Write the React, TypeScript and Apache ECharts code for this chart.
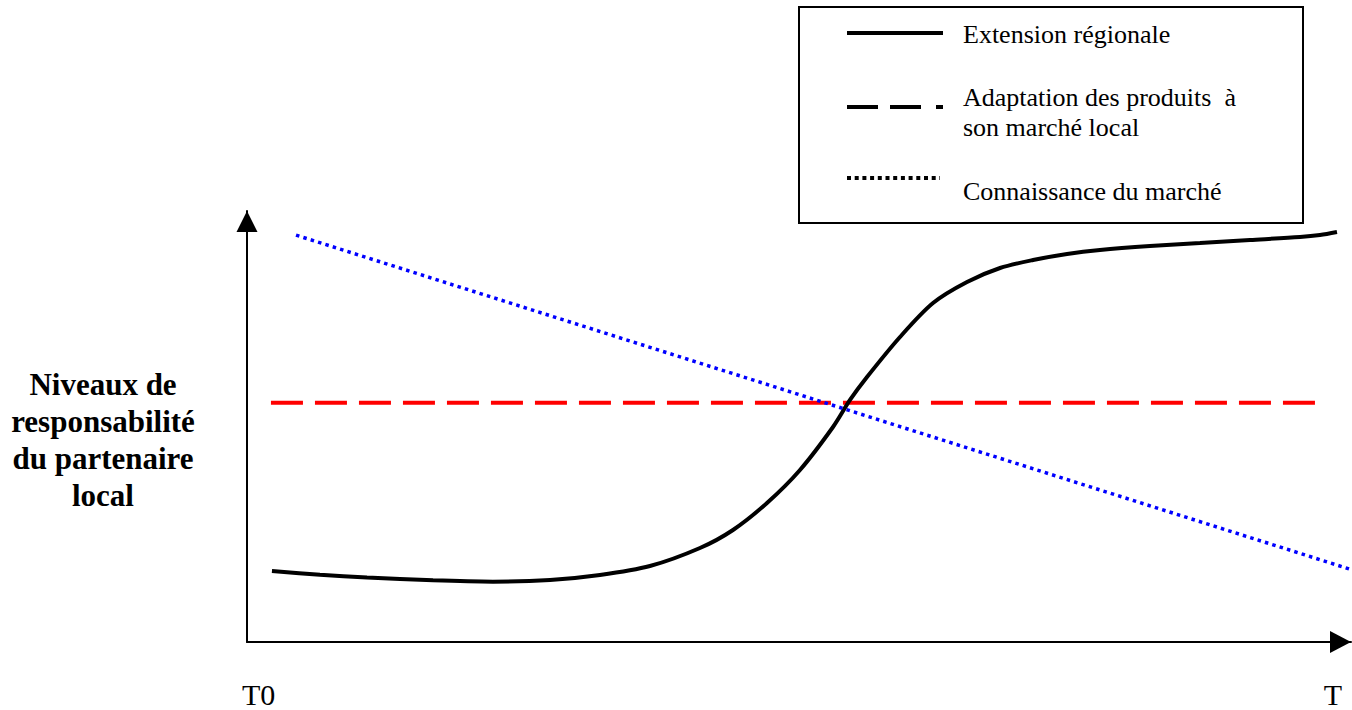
import React, { useEffect, useRef } from "react";
import * as echarts from "echarts";

// Data (normalised 0–100 scale on both axes)
const extensionRegionale: [number, number][] = [
  [2.26, 16.47], [6.61, 15.6], [10.87, 14.95], [16.85, 14.3], [22.28, 14.0],
  [27.45, 14.39], [31.97, 15.55], [36.5, 17.63], [41.03, 21.81], [44.02, 25.99],
  [47.1, 32.25], [50.09, 39.91], [53.08, 49.88], [54.62, 56.15], [56.16, 61.48],
  [59.15, 70.77], [62.14, 78.65], [65.22, 83.53], [68.21, 86.77], [71.2, 88.63],
  [74.28, 90.02], [77.26, 90.95], [81.79, 91.88], [86.32, 92.58], [90.85, 93.27],
  [95.38, 93.97], [97.19, 94.43], [98.73, 95.13],
];
const adaptationProduits: [number, number][] = [
  [2.17, 55.5], [96.74, 55.5],
];
const connaissanceMarche: [number, number][] = [
  [4.44, 94.4], [99.9, 16.9],
];
const legendLabels = [
  "Extension régionale",
  "Adaptation des produits  à",
  "son marché local",
  "Connaissance du marché",
];
const yAxisLabelLines = ["Niveaux de", "responsabilité", "du partenaire", "local"];
const xTickLabels = ["T0", "T"];

const SERIF = "Liberation Serif";

export default function App() {
  const ref = useRef<HTMLDivElement>(null);
  useEffect(() => {
    if (!ref.current) return;
    const chart = echarts.init(ref.current, undefined, { renderer: "svg" });
    const axisLine = (symbolSize: number[]) => ({
      show: true,
      onZero: false,
      symbol: ["none", "triangle"],
      symbolSize,
      symbolOffset: [0, -10.5],
      lineStyle: { color: "#000", width: 2 },
    });
    const legendText = (text: string, y: number) => ({
      type: "text",
      x: 963,
      y,
      style: {
        text,
        fill: "#000",
        fontFamily: SERIF,
        fontSize: 26,
        align: "left",
        verticalAlign: "middle",
      },
    });
    chart.setOption({
      animation: false,
      backgroundColor: "#fff",
      grid: { left: 247, right: 1, top: 211, bottom: 68, containLabel: false },
      xAxis: {
        type: "value",
        min: 0,
        max: 100,
        axisLine: axisLine([22, 21]),
        axisTick: { show: false },
        axisLabel: { show: false },
        splitLine: { show: false },
      },
      yAxis: {
        type: "value",
        min: 0,
        max: 100,
        axisLine: axisLine([21, 21]),
        axisTick: { show: false },
        axisLabel: { show: false },
        splitLine: { show: false },
      },
      series: [
        {
          name: "Adaptation des produits à son marché local",
          type: "line",
          data: adaptationProduits,
          showSymbol: false,
          clip: false,
          lineStyle: { color: "#ff0000", width: 4, type: [32, 12], cap: "butt" },
        },
        {
          name: "Extension régionale",
          type: "line",
          data: extensionRegionale,
          smooth: 0.3,
          showSymbol: false,
          clip: false,
          lineStyle: { color: "#000", width: 4 },
        },
        {
          name: "Connaissance du marché",
          type: "line",
          data: connaissanceMarche,
          showSymbol: false,
          clip: false,
          lineStyle: { color: "#0000ff", width: 3.5, type: [3.5, 4.2], cap: "butt" },
        },
      ],
      graphic: [
        {
          type: "rect",
          shape: { x: 799, y: 7, width: 504, height: 216 },
          style: { fill: "#fff", stroke: "#000", lineWidth: 2 },
        },
        { type: "line", shape: { x1: 847, y1: 33, x2: 943, y2: 33 }, style: { stroke: "#000", lineWidth: 4 } },
        { type: "line", shape: { x1: 847, y1: 107, x2: 878, y2: 107 }, style: { stroke: "#000", lineWidth: 4 } },
        { type: "line", shape: { x1: 890, y1: 107, x2: 921, y2: 107 }, style: { stroke: "#000", lineWidth: 4 } },
        { type: "line", shape: { x1: 936, y1: 107, x2: 943, y2: 107 }, style: { stroke: "#000", lineWidth: 4 } },
        {
          type: "line",
          shape: { x1: 847, y1: 178, x2: 940, y2: 178 },
          style: { stroke: "#000", lineWidth: 4, lineDash: [4, 3.7] },
        },
        legendText(legendLabels[0], 34),
        legendText(legendLabels[1], 97),
        legendText(legendLabels[2], 127),
        legendText(legendLabels[3], 191),
        ...yAxisLabelLines.map((t, i) => ({
          type: "text",
          x: 103,
          y: 384 + i * 37,
          style: {
            text: t,
            fill: "#000",
            fontFamily: SERIF,
            fontSize: 31,
            fontWeight: "bold",
            align: "center",
            verticalAlign: "middle",
          },
        })),
        {
          type: "text",
          x: 242,
          y: 694,
          style: { text: xTickLabels[0], fill: "#000", fontFamily: SERIF, fontSize: 30, align: "left", verticalAlign: "middle" },
        },
        {
          type: "text",
          x: 1342,
          y: 694,
          style: { text: xTickLabels[1], fill: "#000", fontFamily: SERIF, fontSize: 30, align: "right", verticalAlign: "middle" },
        },
      ],
    });
    return () => chart.dispose();
  }, []);
  return (
    <div
      ref={ref}
      style={{ position: "fixed", left: 0, top: 0, width: 1352, height: 710, background: "#fff" }}
    />
  );
}
